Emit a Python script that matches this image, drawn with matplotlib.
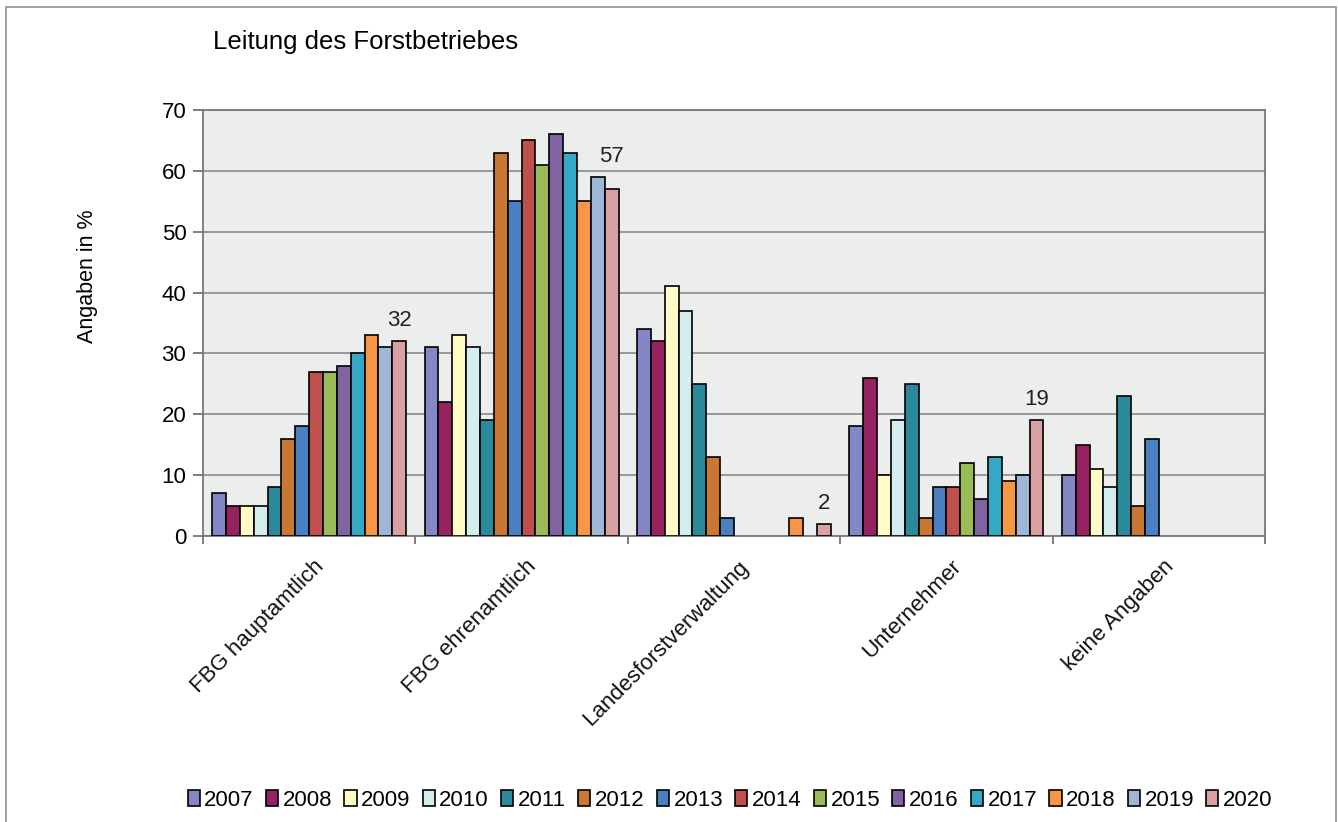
import numpy as np
import matplotlib
matplotlib.use("Agg")
import matplotlib.pyplot as plt
from matplotlib.patches import Rectangle

plt.rcParams['font.family'] = ['Liberation Sans', 'DejaVu Sans']

# ===== Daten =====
categories = ["FBG hauptamtlich", "FBG ehrenamtlich", "Landesforstverwaltung",
              "Unternehmer", "keine Angaben"]
years = ["2007", "2008", "2009", "2010", "2011", "2012", "2013",
         "2014", "2015", "2016", "2017", "2018", "2019", "2020"]

# Werte je Kategorie, Reihenfolge wie years (0 = kein Balken)
fbg_haupt = [7, 5, 5, 5, 8, 16, 18, 27, 27, 28, 30, 33, 31, 32]
fbg_ehren = [31, 22, 33, 31, 19, 63, 55, 65, 61, 66, 63, 55, 59, 57]
landesforst = [34, 32, 41, 37, 25, 13, 3, 0, 0, 0, 0, 3, 0, 2]
unternehmer = [18, 26, 10, 19, 25, 3, 8, 8, 12, 6, 13, 9, 10, 19]
keine_angaben = [10, 15, 11, 8, 23, 5, 16, 0, 0, 0, 0, 0, 0, 0]

colors = ["#8586C6", "#962262", "#FFFAC6", "#D4EDEF", "#2A8A9B", "#C97833",
          "#4A80C0", "#C0504D", "#9BBB59", "#8064A2", "#33A9C5", "#F79646",
          "#9FB6D7", "#D9A1A1"]

values = np.array([fbg_haupt, fbg_ehren, landesforst, unternehmer, keine_angaben])

# ===== Plot =====
fig = plt.figure(figsize=(13.38, 8.22), dpi=100)
ax = fig.add_axes([203 / 1338, 1 - 536 / 822, (1265 - 203) / 1338, (536 - 110) / 822])
ax.set_facecolor("#ECEEEE")

n = len(years)
bar_w = 0.913 / n
x = np.arange(len(categories))
handles = []
for i, year in enumerate(years):
    offs = (i - (n - 1) / 2) * bar_w
    h = [v if v > 0 else np.nan for v in values[:, i]]
    b = ax.bar(x + offs, h, width=bar_w, color=colors[i], edgecolor="black",
               linewidth=1.2, label=year, zorder=3)
    handles.append(b)

# Beschriftungen 2020 (ueber dem hoeheren der beiden letzten Balken)
last = n - 1
for ci in range(len(categories)):
    v = values[ci, last]
    if v > 0:
        top = max(v, values[ci, last - 1])
        ax.text(x[ci] + (last - (n - 1) / 2) * bar_w, top + 3.4, str(v),
                ha="center", va="center", fontsize=16, color="#222222")

ax.set_ylim(0, 70)
ax.set_yticks(range(0, 71, 10))
ax.set_xlim(-0.5, len(categories) - 0.5)
ax.yaxis.grid(True, color="#8A8A8A", linewidth=1.2, zorder=0)
ax.set_axisbelow(True)

ax.set_xticks(np.arange(len(categories) + 1) - 0.5)
ax.set_xticklabels([])
ax.tick_params(axis="x", length=6, color="#666666", width=1.2)
ax.tick_params(axis="y", length=7, color="#666666", width=1.2, labelsize=16, pad=5)
for sp in ax.spines.values():
    sp.set_color("#777777")
    sp.set_linewidth(1.3)

for ci, cat in enumerate(categories):
    ax.text(x[ci] + 0.02, -3.3, cat, rotation=45, ha="right", va="top",
            rotation_mode="anchor", fontsize=16, color="#111111")

fig.text(88 / 1338, 1 - 276 / 822, "Angaben in %", rotation=90, fontsize=15.5,
         ha="center", va="center")

fig.text(213 / 1338, 1 - 42 / 822, "Leitung des Forstbetriebes", fontsize=18.5,
         ha="left", va="center")

# Legende unten
leg = fig.legend(handles=handles, labels=years, loc="center",
                 bbox_to_anchor=(730 / 1338, 1 - 800 / 822), ncol=n, frameon=False,
                 fontsize=16, handlelength=0.55, handleheight=0.7,
                 handletextpad=0.2, columnspacing=0.55)

# Rahmen um die Grafik
fig.patches.append(Rectangle((6 / 1338, -0.1), (1336 - 6) / 1338, 1.1 - 7 / 822,
                             transform=fig.transFigure, fill=False,
                             edgecolor="#9A9A9A", linewidth=1.3))

fig.savefig("out.png", dpi=100)
